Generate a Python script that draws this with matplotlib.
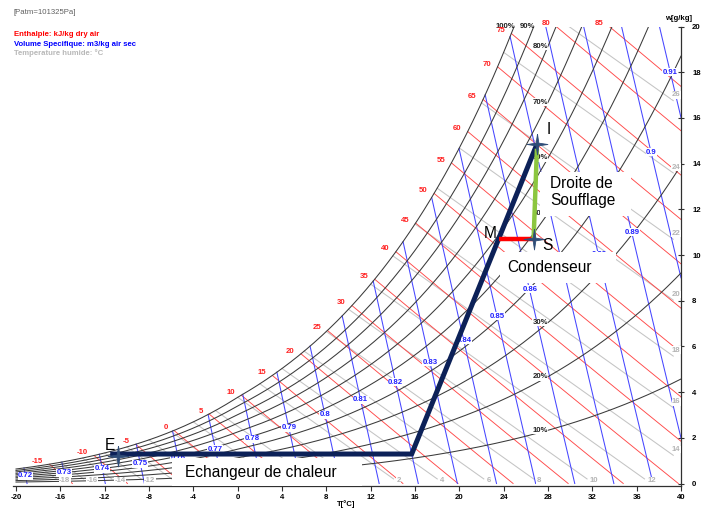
import numpy as np
import matplotlib
matplotlib.use("Agg")
import matplotlib.pyplot as plt
from matplotlib.patches import Rectangle

# ---------------------------------------------------------------- data
P_ATM = 101325.0

rh_levels = [10, 20, 30, 40, 50, 60, 70, 80, 90, 100]
enthalpy_levels = [-15, -10, -5, 0, 5, 10, 15, 20, 25, 30, 35, 40, 45, 50,
                   55, 60, 65, 70, 75, 80, 85]
volume_levels = [0.72, 0.73, 0.74, 0.75, 0.76, 0.77, 0.78, 0.79, 0.80, 0.81,
                 0.82, 0.83, 0.84, 0.85, 0.86, 0.87, 0.88, 0.89, 0.90, 0.91]
wetbulb_levels = [-18, -16, -14, -12, -10, -8, -6, -4, -2, 0, 2, 4, 6, 8, 10,
                  12, 14, 16, 18, 20, 22, 24, 26]

t_ticks = [-20, -16, -12, -8, -4, 0, 4, 8, 12, 16, 20, 24, 28, 32, 36, 40]
w_ticks = [0, 2, 4, 6, 8, 10, 12, 14, 16, 18, 20]

# process path (dry bulb in degC, humidity ratio in g/kg)
path_T = [-11.5, 15.7, 27.0]
path_w = [1.29, 1.29, 14.85]
point_names = ["E", "M", "S", "I"]
point_T = [-10.8, 23.55, 26.7, 27.0]
point_w = [1.22, 10.68, 10.68, 14.85]

T_MIN, T_MAX = -20.0, 40.0
W_MAX = 20.0
WB_SLOPE = 0.345          # g/kg per degC along the wet-bulb lines
RH_LABEL_T = 28.0


# ---------------------------------------------------------- psychrometrics
def p_sat(T):
    T = np.asarray(T, float)
    water = 611.2 * np.exp(17.67 * T / (T + 243.5))
    ice = 611.15 * np.exp(22.452 * T / (272.55 + T))
    return np.where(T < 0, ice, water)


def w_of_pv(pv):
    return 622.0 * pv / (P_ATM - pv)


def w_sat(T):
    return w_of_pv(p_sat(T))


def w_rh(T, rh):
    return w_of_pv(rh / 100.0 * p_sat(T))


# ---------------------------------------------------------------- figure
W_PX, H_PX = 712, 513
fig = plt.figure(figsize=(W_PX / 100, H_PX / 100), dpi=100)
plt.rcParams["font.family"] = ["Liberation Sans", "DejaVu Sans"]

ax_left, ax_right = 13, 681
ax_top, ax_bottom = 26.5, 486
ax = fig.add_axes([ax_left / W_PX, 1 - ax_bottom / H_PX,
                   (ax_right - ax_left) / W_PX, (ax_bottom - ax_top) / H_PX])
px_per_T = (681 - 16) / 60.0
ax.set_xlim(T_MIN - (16 - ax_left) / px_per_T, T_MAX)
ax.set_ylim(-(ax_bottom - 483.5) / 22.85, W_MAX)

C_RH = "#3a3a3a"
C_H = "#ff4848"
C_V = "#4646ff"
C_WB = "#c4c4c4"
SMALL = 5.6

T = np.linspace(T_MIN, T_MAX, 24001)
ws = w_sat(T)

# relative humidity curves
for rh in rh_levels:
    w = w_rh(T, rh)
    m = w <= W_MAX
    ax.plot(T[m], w[m], color=C_RH, lw=0.75, zorder=2)
    wl = float(w_rh(RH_LABEL_T, rh))
    if wl <= W_MAX - 0.6:
        ax.text(RH_LABEL_T, wl, f"{rh}%", ha="right", va="center",
                fontsize=SMALL, fontweight="bold", color="#202020", zorder=3,
                bbox=dict(boxstyle="square,pad=0.05", fc="white", ec="none"))
    else:
        t_exit = float(T[m][-1])
        ax.text(t_exit + 0.15, W_MAX, f"{rh}%", ha="right", va="center",
                fontsize=SMALL, fontweight="bold", color="#202020", zorder=3)

# enthalpy lines
for h in enthalpy_levels:
    w = (h - 1.006 * T) / (2501.0 + 1.86 * T) * 1000.0
    m = (w >= 0) & (w <= ws) & (w <= W_MAX)
    if not m.any():
        continue
    ax.plot(T[m], w[m], color=C_H, lw=0.65, zorder=1.5)
    t0, w0 = T[m][0], w[m][0]
    ax.annotate(f"{h}", (t0, w0), xytext=(-4.5, 2), textcoords="offset points",
                ha="right", va="center", fontsize=SMALL, fontweight="bold",
                color="#ff2020", zorder=3.2)

# specific volume lines
Wv = np.linspace(0, W_MAX, 40001)
for v in volume_levels:
    tv = v * P_ATM / (287.055 * (1 + 1.6078 * Wv / 1000.0)) - 273.15
    m = (tv >= T_MIN) & (tv <= T_MAX) & (Wv <= w_sat(tv))
    if not m.any():
        continue
    ax.plot(tv[m], Wv[m], color=C_V, lw=0.75, zorder=1.6)
    tm = 0.5 * (tv[m][0] + tv[m][-1])
    wm = 0.5 * (Wv[m][0] + Wv[m][-1])
    ax.text(tm, wm, f"{v:g}", ha="center", va="center", fontsize=SMALL,
            fontweight="bold", color="#2020ff", zorder=3,
            bbox=dict(boxstyle="square,pad=0.05", fc="white", ec="none"))

# wet-bulb lines
for twb in wetbulb_levels:
    w0 = float(w_sat(twb))
    t_start = max(twb, T_MIN)
    if w0 > W_MAX:
        t_start = twb + (w0 - W_MAX) / WB_SLOPE
    t_end = twb + (w0 - 0.2) / WB_SLOPE
    at_right = t_end > T_MAX
    t_end = min(t_end, T_MAX - 0.7 if at_right else t_end)
    tt = np.linspace(t_start, t_end, 200)
    ww = w0 - WB_SLOPE * (tt - twb)
    ax.plot(tt, ww, color=C_WB, lw=0.75, zorder=1.4)
    if at_right:
        ax.text(T_MAX - 0.05, ww[-1] + 0.25, f"{twb}", ha="right", va="center",
                fontsize=SMALL, fontweight="bold", color="#b4b4b4", zorder=3,
                bbox=dict(boxstyle="square,pad=0.05", fc="white", ec="none"))
    else:
        ax.text(t_end + 0.25, 0.12, f"{twb}", ha="left", va="center",
                fontsize=SMALL, fontweight="bold", color="#b4b4b4", zorder=3,
                bbox=dict(boxstyle="square,pad=0.05", fc="white", ec="none"))

# ---------------------------------------------------------------- axes
for side in ("left", "top"):
    ax.spines[side].set_visible(False)
for side in ("bottom", "right"):
    ax.spines[side].set_color("#303030")
    ax.spines[side].set_linewidth(0.9)
ax.spines["right"].set_bounds(-0.11, W_MAX)
ax.set_xticks(t_ticks)
ax.set_xticklabels([str(t) for t in t_ticks])
ax.tick_params(axis="x", direction="out", length=3.5, width=0.8,
               color="#303030", pad=2, labelsize=SMALL)
ax.yaxis.tick_right()
ax.set_yticks(w_ticks)
ax.set_yticklabels([str(w) for w in w_ticks])
ax.tick_params(axis="y", direction="inout", length=5, width=0.8,
               color="#303030", pad=5.5, labelsize=SMALL)
for lab in ax.get_xticklabels() + ax.get_yticklabels():
    lab.set_fontweight("bold")

fig.text(679 / W_PX, 1 - 18 / H_PX, "w[g/kg]", ha="center", va="center",
         fontsize=SMALL, fontweight="bold")
fig.text(346 / W_PX, 1 - 504 / H_PX, "T[°C]", ha="center", va="center",
         fontsize=SMALL, fontweight="bold")

# header
fig.text(14 / W_PX, 1 - 12 / H_PX, "[Patm=101325Pa]", ha="left", va="center",
         fontsize=SMALL, color="#606060")
fig.text(14 / W_PX, 1 - 35 / H_PX, "Enthalpie: kJ/kg dry air", ha="left",
         va="center", fontsize=SMALL, fontweight="bold", color="#ff0000")
fig.text(14 / W_PX, 1 - 44 / H_PX, "Volume Specifique: m3/kg air sec",
         ha="left", va="center", fontsize=SMALL, fontweight="bold",
         color="#0000ff")
fig.text(14 / W_PX, 1 - 53 / H_PX, "Temperature humide: °C", ha="left",
         va="center", fontsize=SMALL, fontweight="bold", color="#b8b8b8")


# ---------------------------------------------------------- annotations
def to_data(x, y):
    return ((x - 16) / px_per_T + T_MIN, (483.5 - y) / 22.85)


def white_box(x0, y0, x1, y1):
    (ta, wa), (tb, wb) = to_data(x0, y0), to_data(x1, y1)
    ax.add_patch(Rectangle((ta, wb), tb - ta, wa - wb, fc="white", ec="none",
                           zorder=4))


white_box(540, 172, 631, 216)
white_box(500, 252, 616, 283)
white_box(172, 458, 362, 485.5)

BOX_FS = 11.2
t, w = to_data(550, 183.5)
ax.text(t, w, "Droite de", ha="left", va="center", fontsize=BOX_FS, zorder=5)
t, w = to_data(550, 201)
ax.text(t, w, "Soufflage", ha="left", va="center", fontsize=BOX_FS, zorder=5)
t, w = to_data(507, 267)
ax.text(t, w, "Condenseur", ha="left", va="center", fontsize=BOX_FS, zorder=5)
t, w = to_data(185, 473)
ax.text(t, w, "Echangeur de chaleur", ha="left", va="center",
        fontsize=BOX_FS, zorder=5)

# process lines
ax.plot(path_T, path_w, color="#0c2158", lw=3.6, solid_capstyle="butt",
        solid_joinstyle="miter", zorder=6)
iM, iS, iI = 1, 2, 3
ax.plot([point_T[iM], point_T[iS]], [point_w[iM], point_w[iS]],
        color="#ff0000", lw=3.2, solid_capstyle="butt", zorder=6)
ax.plot([point_T[iS], point_T[iI]], [point_w[iS], point_w[iI] - 0.2],
        color="#8cc63f", lw=3.2, solid_capstyle="butt", zorder=6)

star = [(0, 1), (0.13, 0.13), (1, 0), (0.13, -0.13), (0, -1), (-0.13, -0.13),
        (-1, 0), (-0.13, 0.13), (0, 1)]
for k in (0, 2, 3):
    ax.plot(point_T[k], point_w[k], marker=star, markersize=15,
            color="#2f4d78", mec="#2f4d78", mew=0.6, zorder=7)

letter_px = {"E": (110, 445), "M": (490, 233), "S": (547, 245), "I": (549, 129)}
for name in point_names:
    t, w = to_data(*letter_px[name])
    ax.text(t, w, name, ha="center", va="center", fontsize=11.2, zorder=8)

fig.savefig("out.png", dpi=100)
